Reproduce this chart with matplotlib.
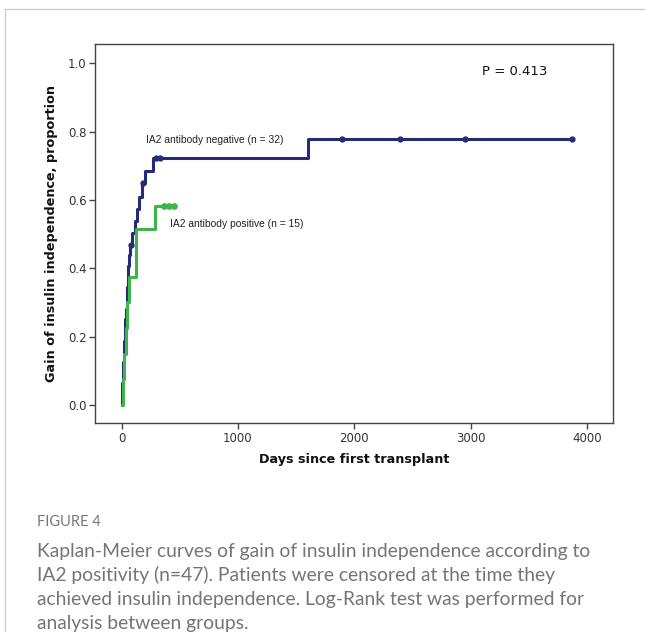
"""Kaplan-Meier curves: gain of insulin independence by IA2 antibody status"""

import matplotlib.pyplot as plt
from matplotlib.lines import Line2D

# Step curve for IA2 antibody negative group (days, cumulative proportion)
neg_days = [0, 2, 5, 9, 14, 19, 24, 28, 33, 38, 43, 48, 53, 58, 64, 70,
            90, 114, 131, 150, 177, 200, 266, 1600, 3875]
neg_prop = [0.0, 0.031, 0.063, 0.094, 0.125, 0.156, 0.188, 0.219, 0.25, 0.281,
            0.313, 0.344, 0.375, 0.406, 0.438, 0.469,
            0.504, 0.539, 0.574, 0.609, 0.649, 0.685, 0.722, 0.778, 0.778]
neg_cens_days = [77, 185, 292, 329, 1898, 2393, 2952, 3875]
neg_cens_prop = [0.469, 0.649, 0.722, 0.722, 0.778, 0.778, 0.778, 0.778]

# Step curve for IA2 antibody positive group
pos_days = [0, 10, 22, 34, 46, 60, 120, 286, 452]
pos_prop = [0.0, 0.075, 0.15, 0.225, 0.30, 0.375, 0.515, 0.583, 0.583]
pos_cens_days = [364, 409, 452]
pos_cens_prop = [0.583, 0.583, 0.583]

x_ticks = [0, 1000, 2000, 3000, 4000]
y_ticks = [0.0, 0.2, 0.4, 0.6, 0.8, 1.0]

navy = '#262b76'
green = '#3db54a'
spine_col = '#444444'

fig = plt.figure(figsize=(6.45, 6.32), dpi=100)
ax = fig.add_axes([0.1473, 0.3302, 0.8031, 0.5998])

ax.step(neg_days, neg_prop, where='post', color=navy, linewidth=2.2)
ax.plot(neg_cens_days, neg_cens_prop, 'o', color=navy, markersize=3.5)
ax.step(pos_days, pos_prop, where='post', color=green, linewidth=2.2)
ax.plot(pos_cens_days, pos_cens_prop, 'o', color=green, markersize=3.8)

ax.set_xlim(-229, 4225)
ax.set_ylim(-0.054, 1.056)
ax.set_xticks(x_ticks)
ax.set_yticks(y_ticks)
ax.set_yticklabels(['{:.1f}'.format(v) for v in y_ticks])
ax.tick_params(direction='out', length=4, width=1, color=spine_col,
               labelsize=8.5, labelcolor='#333333', pad=2)
for s in ax.spines.values():
    s.set_color(spine_col)
    s.set_linewidth(1.0)

ax.set_xlabel('Days since first transplant', fontsize=9.2, fontweight='bold',
              color='#111111', labelpad=6)
ax.set_ylabel('Gain of insulin independence, proportion', fontsize=9.2,
              fontweight='bold', color='#111111', labelpad=7)

ax.text(209, 0.776, 'IA2 antibody negative (n = 32)', fontsize=7.4,
        family='Liberation Sans', color='#222222', va='center')
ax.text(415, 0.530, 'IA2 antibody positive (n = 15)', fontsize=7.4,
        family='Liberation Sans', color='#222222', va='center')
ax.text(3100, 0.975, 'P = 0.413', fontsize=9.5, color='#111111', va='center')

# Outer page frame (top and left edges only)
fig.add_artist(Line2D([5 / 645, 1], [1 - 9 / 632, 1 - 9 / 632],
                      transform=fig.transFigure, color='#cccccc', linewidth=1))
fig.add_artist(Line2D([5 / 645, 5 / 645], [0, 1 - 9 / 632],
                      transform=fig.transFigure, color='#cccccc', linewidth=1))

# Caption
fig.text(37 / 645, 1 - 522 / 632, 'FIGURE 4', fontsize=10.5, family='Lato',
         color='#777777', va='center')
caption = ['Kaplan-Meier curves of gain of insulin independence according to',
           'IA2 positivity (n=47). Patients were censored at the time they',
           'achieved insulin independence. Log-Rank test was performed for',
           'analysis between groups.']
for i, line in enumerate(caption):
    fig.text(37 / 645, 1 - (551 + 24.3 * i) / 632, line, fontsize=13.9,
             family='Lato', color='#757575', va='center')

plt.savefig('out.png', dpi=100)
